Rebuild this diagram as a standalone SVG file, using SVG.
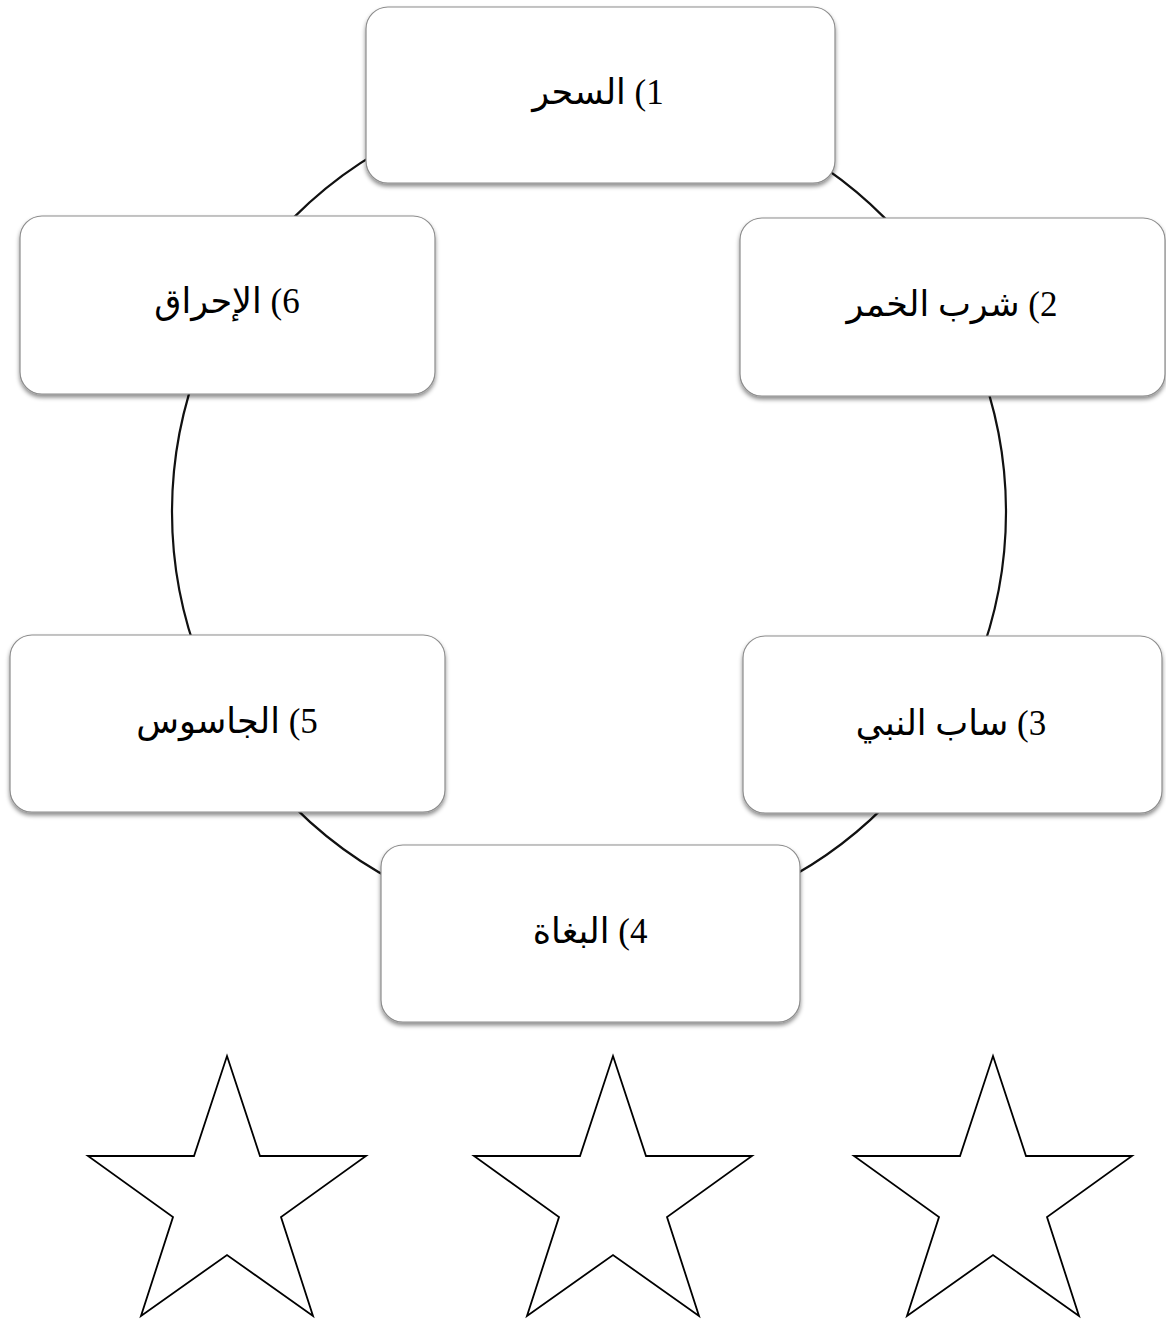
<svg xmlns="http://www.w3.org/2000/svg" xmlns:xlink="http://www.w3.org/1999/xlink" width="1166" height="1319" viewBox="0 0 1166 1319">
<style>
.box{fill:#ffffff;stroke:#8c8c8c;stroke-width:1.2;filter:url(#shadow)}
.lbl{font-family:"Liberation Serif","DejaVu Sans",serif;font-size:35px;fill:#000;text-anchor:middle;direction:rtl;unicode-bidi:embed}
.ring{fill:none;stroke:#111;stroke-width:2.2}
.star{fill:#fff;stroke:#000;stroke-width:1.8;stroke-linejoin:miter}
</style>
<defs>
<filter id="shadow" x="-10%" y="-10%" width="120%" height="130%">
<feDropShadow dx="0" dy="3" stdDeviation="2.2" flood-color="#000" flood-opacity="0.45"/>
</filter>
<path id="starShape" class="star" d="M0,0 L33,100 L139,100 L54,161 L86,260 L0,199 L-86,260 L-54,161 L-139,100 L-33,100 Z"/>
</defs>
<rect width="1166" height="1319" fill="#ffffff"/>
<g id="connectors">
<circle class="ring" cx="589" cy="512" r="417"/>
</g>
<g id="node1">
<rect class="box" x="366" y="7" width="469" height="176" rx="22"/>
<text class="lbl" x="598" y="104">1) السحر</text>
</g>
<g id="node2">
<rect class="box" x="740" y="218" width="425" height="178" rx="22"/>
<text class="lbl" x="952" y="316">2) شرب الخمر</text>
</g>
<g id="node3">
<rect class="box" x="743" y="636" width="419" height="177" rx="22"/>
<text class="lbl" x="951" y="735">3) ساب النبي</text>
</g>
<g id="node4">
<rect class="box" x="381" y="845" width="419" height="177" rx="22"/>
<text class="lbl" x="590" y="943">4) البغاة</text>
</g>
<g id="node5">
<rect class="box" x="10" y="635" width="435" height="177" rx="22"/>
<text class="lbl" x="227" y="733">5) الجاسوس</text>
</g>
<g id="node6">
<rect class="box" x="20" y="216" width="415" height="178" rx="22"/>
<text class="lbl" x="227" y="313">6) الإحراق</text>
</g>
<g id="stars">
<use xlink:href="#starShape" x="227" y="1056"/>
<use xlink:href="#starShape" x="613" y="1056"/>
<use xlink:href="#starShape" x="993" y="1056"/>
</g>
</svg>
